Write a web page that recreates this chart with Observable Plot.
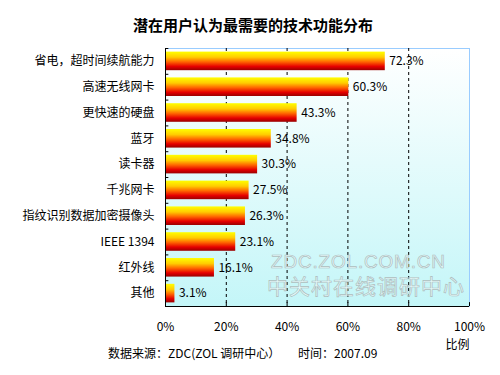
<!DOCTYPE html>
<html><head><meta charset="utf-8">
<script src="https://cdn.jsdelivr.net/npm/d3@7"></script>
<script src="https://cdn.jsdelivr.net/npm/@observablehq/plot@0.6"></script>
<style>
body{margin:0;background:#fff;font-family:"Noto Sans CJK SC","Noto Sans",sans-serif;color:#000}
#wrap{position:relative;width:500px;height:375px;overflow:hidden}
#chart{position:absolute;left:0;top:0}
#title{position:absolute;top:15px;left:3px;width:500px;text-align:center;font-weight:bold;font-size:15px;line-height:20px}
.foot{position:absolute;top:344px;font-size:12px;line-height:18px;white-space:pre}
#foot1{left:108px}
#foot2{left:298px}
.wm{position:absolute;color:rgba(255,255,255,0.55);-webkit-text-stroke:0.7px #adbdbd;white-space:nowrap}
#wm1{left:271px;top:251px;font-family:"Liberation Sans",sans-serif;font-size:19px;letter-spacing:0.8px}
#wm2{left:267px;top:270px;font-size:21px;letter-spacing:1px}
</style></head>
<body><div id="wrap">
<div id="chart"></div>
<div id="title">潜在用户认为最需要的技术功能分布</div>
<div class="wm" id="wm1">ZDC.ZOL.COM.CN</div>
<div class="wm" id="wm2">中关村在线调研中心</div>
<div class="foot" id="foot1">数据来源：ZDC(ZOL 调研中心）</div>
<div class="foot" id="foot2">时间：2007.09</div>
</div>
<script>
const categories = ["省电，超时间续航能力","高速无线网卡","更快速的硬盘","蓝牙","读卡器","千兆网卡","指纹识别数据加密摄像头","IEEE 1394","红外线","其他"];
const values = [72.3, 60.3, 43.3, 34.8, 30.3, 27.5, 26.3, 23.1, 16.1, 3.1];
const xTicks = [0, 20, 40, 60, 80, 100];
const gridTicks = [20, 40, 60, 80];
const axisLabel = "比例";

const data = categories.map((c, i) => ({cat: c, value: values[i], i}));

const plot = Plot.plot({
  width: 500, height: 375,
  marginTop: 48, marginBottom: 69, marginLeft: 165, marginRight: 31,
  style: {fontFamily: '"Noto Sans CJK SC","Noto Sans",sans-serif', fontSize: "12px", background: "transparent", color: "#000"},
  x: {domain: [0, 100], axis: null},
  y: {domain: [0, 10], reverse: true, axis: null},
  marks: [
    Plot.frame({fill: "url(#bgGrad)", stroke: "#99ccff"}),
    Plot.ruleX(gridTicks, {stroke: "#000", strokeDasharray: "3,3"}),
    Plot.rectX(data, {x1: 0, x2: "value", y1: d => d.i + 0.14, y2: d => d.i + 0.86, fill: "url(#barGrad)"}),
    Plot.ruleX([0], {stroke: "#000"}),
    Plot.ruleY([10], {stroke: "#000"}),
    Plot.ruleY(d3.range(0, 11), {x1: 0, x2: 1.1, stroke: "#000"}),
    Plot.ruleX(xTicks.slice(1), {y1: 10, y2: 9.85, stroke: "#000"}),
    Plot.text(data, {x: "value", y: d => d.i + 0.5, text: d => d.value.toFixed(1) + "%", dx: 4, textAnchor: "start", fill: "#000"}),
    Plot.text(data, {x: 0, y: d => d.i + 0.5, text: "cat", dx: -11, textAnchor: "end", fill: "#000"}),
    Plot.text(xTicks, {x: d => d, y: 10, dy: 21, text: d => d + "%", fill: "#000"}),
    Plot.text([axisLabel], {x: 100, y: 10, dy: 39, text: d => d, textAnchor: "end", fill: "#000"})
  ]
});

const svg = d3.select(plot);
const defs = svg.insert("defs", ":first-child");
const bg = defs.append("linearGradient").attr("id", "bgGrad").attr("x1", 0).attr("y1", 0).attr("x2", 0).attr("y2", 1);
bg.append("stop").attr("offset", "0").attr("stop-color", "#ffffff");
bg.append("stop").attr("offset", "1").attr("stop-color", "#c4f6f8");
const bar = defs.append("linearGradient").attr("id", "barGrad").attr("x1", 0).attr("y1", 0).attr("x2", 0).attr("y2", 1);
[["0", "#ffff00"], ["0.3", "#ffcc00"], ["0.55", "#ff6600"], ["0.8", "#e60000"], ["1", "#990000"]]
  .forEach(([o, c]) => bar.append("stop").attr("offset", o).attr("stop-color", c));

document.getElementById("chart").appendChild(plot);
</script>
</body></html>
